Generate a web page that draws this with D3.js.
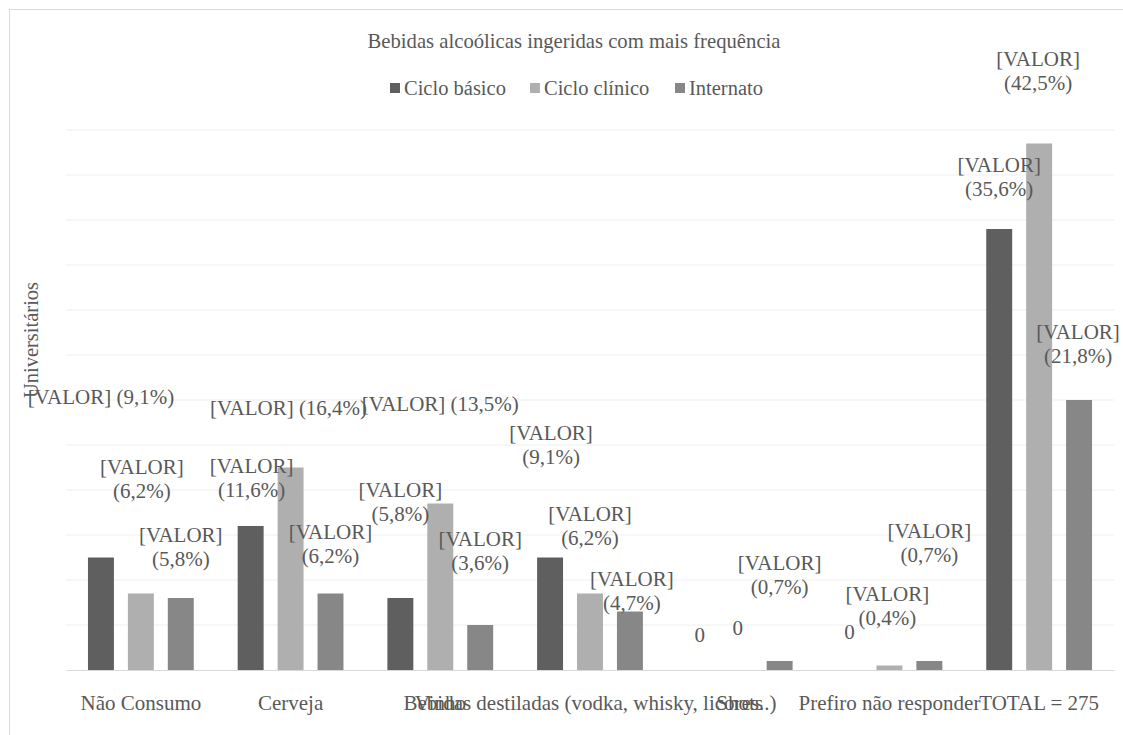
<!DOCTYPE html>
<html>
<head>
<meta charset="utf-8">
<script src="https://cdn.jsdelivr.net/npm/d3@7"></script>
<style>
  body { margin: 0; background: #fff; }
  text { font-family: "Liberation Serif", "Times New Roman", serif; fill: #595959; }
</style>
</head>
<body>
<svg id="chart"></svg>
<script>
// ----- Data -----
const total = 275;
const categories = ["Não Consumo", "Cerveja", "Vinho", "Bebidas destiladas (vodka, whisky, licores..)",
                    "Shots", "Prefiro não responder", "TOTAL = 275"];
const seriesNames = ["Ciclo básico", "Ciclo clínico", "Internato"];
const cicloBasico  = [25, 32, 16, 25, 0, 0, 98];
const cicloClinico = [17, 45, 37, 17, 0, 1, 117];
const internato    = [16, 17, 10, 13, 2, 2, 60];
const yTicks = d3.range(0, 121, 10);

// ----- Label layout (offset from bar top centre, single-line flag) -----
const labelLayout = [
  // Ciclo básico
  [[0, -161, 1], [1, -60, 0], [0, -108, 0], [1, -125, 0], [0, -35, 0], [0, -38, 0], [0, -64, 0]],
  // Ciclo clínico
  [[1, -127, 0], [-2, -60, 1], [0, -100, 1], [0, -80, 0], [-2, -42, 0], [-2, -72, 0], [-1, -85, 0]],
  // Internato
  [[0, -63, 0], [0, -62, 0], [0, -86, 0], [2, -33, 0], [0, -98, 0], [0, -130, 0], [-1, -68, 0]]
];

const colors = ["#5f5f5f", "#afafaf", "#878787"];
const width = 1123, height = 735;
const plot = { left: 66, right: 1114, top: 130, bottom: 670 };
const labelSize = 21;

const svg = d3.select("#chart").attr("width", width).attr("height", height);

// frame
svg.append("rect")
    .attr("x", 9.5).attr("y", 9.5)
    .attr("width", 1200).attr("height", 800)
    .attr("fill", "none").attr("stroke", "#d9d9d9");

const x0 = d3.scaleBand().domain(d3.range(categories.length))
    .range([plot.left, plot.right]).paddingInner(0.2).paddingOuter(0.1);
const x1 = d3.scaleBand().domain(d3.range(seriesNames.length))
    .range([0, x0.bandwidth()]).paddingInner(0.35).paddingOuter(0.175);
const y = d3.scaleLinear().domain([0, 120]).range([plot.bottom, plot.top]);

// gridlines
svg.append("g").selectAll("line")
    .data(yTicks.slice(1))
    .join("line")
    .attr("x1", plot.left).attr("x2", plot.right)
    .attr("y1", d => y(d)).attr("y2", d => y(d))
    .attr("stroke", "#efefef").attr("stroke-width", 1);

// category axis
const xAxis = svg.append("g")
    .attr("transform", `translate(0,${plot.bottom})`)
    .call(d3.axisBottom(x0.copy().paddingInner(0).paddingOuter(0)).tickSize(0).tickFormat(i => categories[i]));
xAxis.select(".domain").attr("stroke", "#d9d9d9");
xAxis.selectAll("text")
    .attr("font-size", labelSize).attr("fill", "#595959")
    .attr("font-family", "Liberation Serif, serif")
    .attr("y", 33).attr("dy", "0.35em");

// bars
const series = [cicloBasico, cicloClinico, internato];
const barData = [];
series.forEach((vals, s) => vals.forEach((v, c) => barData.push({ s, c, v })));

svg.append("g").selectAll("rect")
    .data(barData)
    .join("rect")
    .attr("x", d => x0(d.c) + x1(d.s))
    .attr("width", x1.bandwidth())
    .attr("y", d => y(d.v))
    .attr("height", d => plot.bottom - y(d.v))
    .attr("fill", d => colors[d.s]);

// data labels
const fmt = v => "(" + (v / total * 100).toFixed(1).replace(".", ",") + "%)";
const labels = svg.append("g").attr("font-size", labelSize).attr("text-anchor", "middle");
barData.forEach(d => {
  const [dx, dy, single] = labelLayout[d.s][d.c];
  const cx = x0(d.c) + x1(d.s) + x1.bandwidth() / 2 + dx;
  const cy = y(d.v) + dy;
  const t = labels.append("text").attr("x", cx).attr("y", cy).attr("dy", "0.35em");
  if (d.v === 0) {
    t.text("0");
  } else if (single) {
    t.text("[VALOR] " + fmt(d.v));
  } else {
    t.append("tspan").attr("x", cx).text("[VALOR]");
    t.append("tspan").attr("x", cx).attr("dy", 24).text(fmt(d.v));
  }
});

// title
svg.append("text")
    .attr("x", 574).attr("y", 41).attr("dy", "0.35em")
    .attr("text-anchor", "middle").attr("font-size", 20.7)
    .text("Bebidas alcoólicas ingeridas com mais frequência");

// legend
const legendX = [390, 530, 675];
const legend = svg.append("g").selectAll("g")
    .data(seriesNames)
    .join("g")
    .attr("transform", (d, i) => `translate(${legendX[i]},88)`);
legend.append("rect")
    .attr("x", 0).attr("y", -5).attr("width", 10).attr("height", 10)
    .attr("fill", (d, i) => colors[i]);
legend.append("text")
    .attr("x", 14).attr("dy", "0.35em").attr("font-size", 20.5)
    .text(d => d);

// y axis title
svg.append("text")
    .attr("transform", "translate(31,340) rotate(-90)")
    .attr("dy", "0.35em")
    .attr("text-anchor", "middle").attr("font-size", 20.5)
    .text("Universitários");
</script>
</body>
</html>
